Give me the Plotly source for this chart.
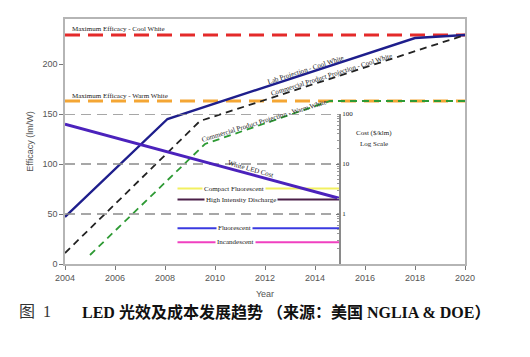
import numpy as np
import plotly.graph_objects as go

# ---------------- data ----------------
max_years = [2004, 2020]
max_cool_white = [229, 229]
max_warm_white = [163, 163]

lab_years = [2004, 2008.1, 2018, 2020]
lab_cool_white = [47, 145, 226, 229]

com_cool_years = [2004, 2009.4, 2020]
com_cool_white = [11, 143, 229]

com_warm_years = [2005, 2009.6, 2014.6, 2020]
com_warm_white = [9, 120, 163, 163]

led_cost_years = [2004, 2015]
led_cost = [62.8, 2.04]          # $/klm, log scale

ref_names = ["Compact Fluorescent", "High Intensity Discharge", "Fluorescent", "Incandescent"]
ref_costs = [3.22, 1.95, 0.52, 0.273]
ref_colors = ["#F2F060", "#4A1F48", "#3A3AE0", "#F040C0"]
ref_years = [2008.5, 2015]
ref_label_x = [2010.76, 2011.02, 2010.78, 2010.8]

cost_grid = [1, 10, 100]
cost_grid_years = [2004, 2015]

x_ticks = list(range(2004, 2021, 2))
y_ticks = [0, 50, 100, 150, 200]

# ---------------- figure ----------------
fig = go.Figure()

for c in cost_grid:
    fig.add_trace(go.Scatter(x=cost_grid_years, y=[c, c], yaxis="y2", mode="lines",
                             line=dict(color="#8a8a8a", width=1.5, dash="10px,6px"),
                             showlegend=False, hoverinfo="skip"))

fig.add_trace(go.Scatter(x=max_years, y=max_cool_white, mode="lines",
                         line=dict(color="#E42A2A", width=3.2, dash="15px,8px"), showlegend=False))
fig.add_trace(go.Scatter(x=max_years, y=max_warm_white, mode="lines",
                         line=dict(color="#F4A634", width=3.2, dash="15px,8px"), showlegend=False))
fig.add_trace(go.Scatter(x=lab_years, y=lab_cool_white, mode="lines",
                         line=dict(color="#1E1E8C", width=2.4), showlegend=False))
fig.add_trace(go.Scatter(x=com_cool_years, y=com_cool_white, mode="lines",
                         line=dict(color="#222222", width=1.8, dash="7px,5px"), showlegend=False))
fig.add_trace(go.Scatter(x=com_warm_years, y=com_warm_white, mode="lines",
                         line=dict(color="#2E9A34", width=1.8, dash="7px,5px"), showlegend=False))

for name, c, col in zip(ref_names, ref_costs, ref_colors):
    fig.add_trace(go.Scatter(x=ref_years, y=[c, c], yaxis="y2", mode="lines",
                             line=dict(color=col, width=2), showlegend=False))

fig.add_trace(go.Scatter(x=led_cost_years, y=led_cost, yaxis="y2", mode="lines",
                         line=dict(color="#4B22BC", width=3), showlegend=False))

small = dict(family="Liberation Serif", size=7, color="#222")
ann = []
ann.append(dict(x=2004.2, y=235, xref="x", yref="y", text="Maximum Efficacy - Cool White",
                showarrow=False, xanchor="left", font=small))
ann.append(dict(x=2004.2, y=168, xref="x", yref="y", text="Maximum Efficacy - Warm White",
                showarrow=False, xanchor="left", font=small))
ann.append(dict(x=2013.64, y=194, xref="x", yref="y", text="Lab Projection - Cool White",
                showarrow=False, textangle=-18, font=small))
ann.append(dict(x=2014.64, y=189.5, xref="x", yref="y", text="Commercial Product Projection - Cool White",
                showarrow=False, textangle=-17.5, font=small))
ann.append(dict(x=2011.96, y=143.4, xref="x", yref="y", text="Commercial Product Projection - Warm White",
                showarrow=False, textangle=-17, font=small))
ann.append(dict(x=2011.4, y=94.7, xref="x", yref="y", text="White LED Cost",
                showarrow=False, textangle=16, font=small))
ann.append(dict(x=2016.36, y=131, xref="x", yref="y", text="Cost ($/klm)",
                showarrow=False, font=small))
ann.append(dict(x=2016.36, y=120, xref="x", yref="y", text="Log Scale",
                showarrow=False, font=small))
for name, c, lx in zip(ref_names, ref_costs, ref_label_x):
    ann.append(dict(x=lx, y=float(np.log10(c)), xref="x", yref="y2", text=name,
                    showarrow=False, font=small, bgcolor="white", borderpad=1))

ann.append(dict(x=-0.12, y=-0.194, xref="paper", yref="paper", text="图  1",
                showarrow=False, xanchor="left", yanchor="middle",
                font=dict(family="Liberation Serif, Noto Sans CJK SC", size=16, color="#333")))
ann.append(dict(x=0.0375, y=-0.194, xref="paper", yref="paper",
                text="<b>LED 光效及成本发展趋势 （来源：美国 NGLIA &amp; DOE）</b>",
                showarrow=False, xanchor="left", yanchor="middle",
                font=dict(family="Liberation Serif, Noto Sans CJK SC", size=16, color="#111")))

tickfont = dict(family="Liberation Sans", size=9, color="#555")
fig.update_layout(
    width=522, height=349,
    margin=dict(l=57, r=65, t=9, b=93),
    paper_bgcolor="white", plot_bgcolor="rgba(0,0,0,0)",
    showlegend=False,
    annotations=ann,
    xaxis=dict(range=[2004, 2020], tickvals=x_ticks, showgrid=False, zeroline=False,
               showline=True, linecolor="#b5b5b5", linewidth=1.5, mirror=True, automargin=True,
               ticks="outside", ticklen=4, tickcolor="#777", tickfont=tickfont,
               title=dict(text="Year", font=tickfont, standoff=9)),
    yaxis=dict(range=[0, 245], tickvals=y_ticks, showgrid=False, zeroline=False,
               showline=True, linecolor="#b5b5b5", linewidth=1.5, mirror=True, automargin=True,
               ticks="outside", ticklen=4, tickcolor="#777", tickfont=tickfont,
               title=dict(text="Efficacy (lm/W)", font=tickfont, standoff=7)),
    yaxis2=dict(type="log", range=[-1, 2], domain=[0, 150 / 245], anchor="free",
                position=(2015 - 2004) / (2020 - 2004), side="right", automargin=False,
                showgrid=False, zeroline=False, showline=True, linecolor="#8a8a8a", linewidth=1.5,
                tickvals=cost_grid, ticktext=[str(v) for v in cost_grid],
                ticks="inside", ticklen=3, tickcolor="#777",
                minor=dict(ticks="inside", ticklen=2, tickcolor="#999", dtick="D1", showgrid=False),
                tickfont=dict(family="Liberation Serif", size=7, color="#222")),
)

fig.write_html("out.html")
